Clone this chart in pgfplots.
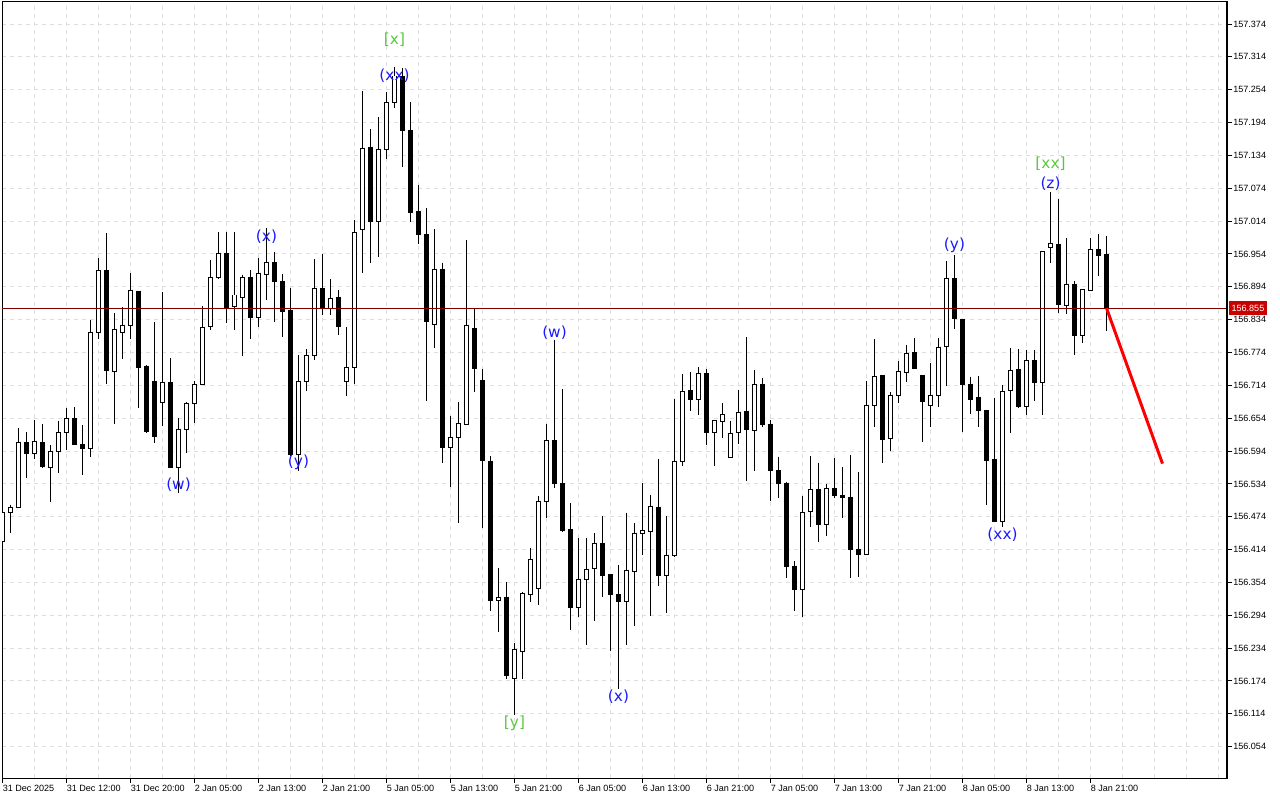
\documentclass[border=0pt]{standalone}
\usepackage{pgfplots}
\pgfplotsset{compat=1.18}
\usepackage{pgfplotstable}
\usepackage{fontspec}
\setmainfont{Liberation Sans}
\newfontfamily\wavefont{DejaVu Sans}

\definecolor{gridgray}{RGB}{222,222,222}
\definecolor{bidred}{RGB}{125,0,0}
\definecolor{boxred}{RGB}{200,0,0}
\definecolor{waveblue}{RGB}{25,25,255}
\definecolor{wavegreen}{RGB}{90,200,60}

\tikzset{wave/.style={font=\wavefont\fontsize{11.5}{13}\selectfont, inner sep=0pt}}

% hourly bars, i = bar number
\pgfplotstableread{
i o h l c
0 156.428 156.483 156.427 156.482
1 156.482 156.496 156.445 156.491
2 156.491 156.636 156.490 156.610
3 156.610 156.629 156.545 156.590
4 156.590 156.651 156.580 156.612
5 156.610 156.643 156.563 156.565
6 156.564 156.605 156.501 156.594
7 156.594 156.649 156.554 156.628
8 156.628 156.672 156.595 156.653
9 156.654 156.674 156.605 156.606
10 156.606 156.641 156.551 156.598
11 156.598 156.833 156.584 156.810
12 156.810 156.946 156.798 156.924
13 156.924 156.992 156.716 156.741
14 156.739 156.846 156.643 156.816
15 156.810 156.857 156.762 156.824
16 156.824 156.919 156.799 156.888
17 156.886 156.887 156.673 156.747
18 156.749 156.751 156.627 156.629
19 156.721 156.830 156.608 156.620
20 156.683 156.885 156.639 156.720
21 156.720 156.764 156.563 156.564
22 156.564 156.654 156.517 156.634
23 156.634 156.684 156.590 156.680
24 156.680 156.722 156.646 156.716
25 156.716 156.859 156.715 156.820
26 156.821 156.943 156.816 156.911
27 156.911 156.995 156.908 156.954
28 156.954 156.994 156.828 156.857
29 156.858 156.994 156.815 156.879
30 156.875 156.916 156.768 156.911
31 156.911 156.925 156.799 156.838
32 156.838 156.947 156.821 156.919
33 156.917 157.001 156.869 156.939
34 156.939 156.957 156.830 156.903
35 156.904 156.917 156.803 156.849
36 156.850 156.892 156.585 156.588
37 156.588 156.769 156.558 156.721
38 156.721 156.780 156.704 156.769
39 156.768 156.945 156.760 156.891
40 156.891 156.954 156.842 156.854
41 156.854 156.908 156.842 156.873
42 156.875 156.888 156.806 156.821
43 156.721 156.820 156.695 156.747
44 156.747 157.016 156.716 156.994
45 156.999 157.252 156.919 157.147
46 157.149 157.182 156.938 157.013
47 157.013 157.204 156.949 157.145
48 157.145 157.249 157.127 157.231
49 157.231 157.296 157.220 157.279
50 157.279 157.294 157.113 157.179
51 157.180 157.231 157.013 157.029
52 157.031 157.080 156.973 156.990
53 156.989 157.038 156.686 156.830
54 156.825 156.999 156.782 156.926
55 156.925 156.938 156.573 156.600
56 156.601 156.658 156.529 156.619
57 156.619 156.684 156.463 156.645
58 156.643 156.979 156.642 156.824
59 156.818 156.853 156.701 156.745
60 156.722 156.744 156.454 156.576
61 156.575 156.585 156.302 156.321
62 156.321 156.380 156.264 156.326
63 156.327 156.354 156.178 156.184
64 156.179 156.243 156.112 156.232
65 156.228 156.336 156.178 156.334
66 156.332 156.416 156.319 156.396
67 156.343 156.512 156.312 156.501
68 156.501 156.643 156.472 156.613
69 156.613 156.797 156.526 156.535
70 156.535 156.707 156.447 156.449
71 156.450 156.499 156.268 156.309
72 156.309 156.435 156.291 156.360
73 156.360 156.436 156.239 156.378
74 156.380 156.444 156.284 156.426
75 156.426 156.475 156.328 156.366
76 156.368 156.369 156.229 156.332
77 156.332 156.386 156.159 156.319
78 156.319 156.481 156.240 156.376
79 156.374 156.463 156.275 156.444
80 156.444 156.536 156.404 156.448
81 156.447 156.514 156.293 156.493
82 156.491 156.580 156.348 156.366
83 156.366 156.475 156.299 156.404
84 156.404 156.689 156.401 156.575
85 156.575 156.735 156.567 156.703
86 156.704 156.738 156.668 156.689
87 156.689 156.747 156.660 156.735
88 156.735 156.743 156.605 156.628
89 156.628 156.651 156.567 156.649
90 156.648 156.681 156.618 156.661
91 156.583 156.649 156.583 156.626
92 156.628 156.706 156.607 156.665
93 156.667 156.802 156.540 156.634
94 156.631 156.742 156.558 156.716
95 156.716 156.727 156.638 156.643
96 156.643 156.651 156.503 156.558
97 156.559 156.584 156.509 156.535
98 156.535 156.537 156.363 156.383
99 156.384 156.393 156.302 156.342
100 156.342 156.511 156.291 156.482
101 156.483 156.585 156.456 156.524
102 156.524 156.573 156.428 156.460
103 156.460 156.534 156.438 156.526
104 156.526 156.581 156.508 156.512
105 156.512 156.565 156.471 156.510
106 156.510 156.587 156.362 156.415
107 156.415 156.555 156.364 156.405
108 156.405 156.722 156.404 156.678
109 156.678 156.799 156.637 156.731
110 156.732 156.733 156.573 156.616
111 156.616 156.701 156.594 156.696
112 156.696 156.758 156.681 156.739
113 156.738 156.788 156.721 156.773
114 156.774 156.800 156.744 156.745
115 156.732 156.733 156.611 156.684
116 156.678 156.754 156.637 156.696
117 156.696 156.800 156.674 156.784
118 156.785 156.941 156.713 156.910
119 156.910 156.952 156.817 156.837
120 156.835 156.836 156.628 156.716
121 156.716 156.730 156.662 156.689
122 156.692 156.731 156.638 156.668
123 156.668 156.669 156.496 156.576
124 156.578 156.691 156.464 156.465
125 156.465 156.715 156.456 156.702
126 156.705 156.783 156.627 156.741
127 156.743 156.780 156.673 156.676
128 156.676 156.779 156.660 156.759
129 156.759 156.779 156.686 156.719
130 156.719 156.959 156.659 156.958
131 156.966 157.067 156.938 156.973
132 156.972 157.054 156.847 156.861
133 156.860 156.983 156.845 156.899
134 156.899 156.905 156.770 156.805
135 156.805 156.890 156.791 156.889
136 156.888 156.983 156.886 156.962
137 156.962 156.990 156.914 156.951
138 156.953 156.987 156.813 156.855
}\candles

\begin{document}
\begin{tikzpicture}
\begin{axis}[
  at={(1.5pt,16.5pt)}, anchor=south west,
  scale only axis, width=918.75pt, height=582pt,
  xmin=-0.0625, xmax=153.0625,
  ymin=155.9968, ymax=157.4142,
  axis line style={line width=0.75pt, black},
  tick align=outside,
  xtick pos=left, ytick pos=right, yticklabel pos=right,
  major tick length=3.75pt, minor tick length=0pt,
  tick style={black, line width=0.75pt},
  xtick={0,8,...,136},
  xticklabels={31 Dec 2025, 31 Dec 12:00, 31 Dec 20:00, 2 Jan 05:00, 2 Jan 13:00,
    2 Jan 21:00, 5 Jan 05:00, 5 Jan 13:00, 5 Jan 21:00, 6 Jan 05:00, 6 Jan 13:00,
    6 Jan 21:00, 7 Jan 05:00, 7 Jan 13:00, 7 Jan 21:00, 8 Jan 05:00, 8 Jan 13:00,
    8 Jan 21:00},
  minor xtick={4,12,20,28,36,44,52,60,68,76,84,92,100,108,116,124,132,140,144,148,152},
  ytick={156.054,156.114,156.174,156.234,156.294,156.354,156.414,156.474,156.534,
    156.594,156.654,156.714,156.774,156.834,156.894,156.954,157.014,157.074,
    157.134,157.194,157.254,157.314,157.374},
  yticklabels={156.054,156.114,156.174,156.234,156.294,156.354,156.414,156.474,156.534,
    156.594,156.654,156.714,156.774,156.834,156.894,156.954,157.014,157.074,
    157.134,157.194,157.254,157.314,157.374},
  xmajorgrids, xminorgrids, ymajorgrids,
  major grid style={gridgray, dash pattern=on 3pt off 3pt, line width=0.75pt},
  minor grid style={gridgray, dash pattern=on 3pt off 3pt, line width=0.75pt},
  tick label style={font=\fontsize{6.8}{7}\selectfont, inner sep=0pt},
  xticklabel style={anchor=north west, yshift=-1.5pt},
  yticklabel style={anchor=west, xshift=0.75pt},
]

% wicks
\addplot[draw=none, mark=none, forget plot,
  error bars/.cd, y dir=minus, y explicit, error mark=none,
  error bar style={draw=black, line width=0.75pt}]
  table[x=i, y=h, y error minus expr={\thisrow{h}-\thisrow{l}}] {\candles};

% bodies
\addplot[draw=none, mark=none, forget plot,
  error bars/.cd, y dir=minus, y explicit, error mark=none,
  error bar style={draw=black, line width=3.75pt}]
  table[x=i, y expr={max(\thisrow{o},\thisrow{c})+0.0009},
    y error minus expr={abs(\thisrow{c}-\thisrow{o})+0.0018}] {\candles};

% hollow inside of rising bars
\addplot[draw=none, mark=none, forget plot,
  error bars/.cd, y dir=minus, y explicit, error mark=none,
  error bar style={draw=white, line width=2.25pt}]
  table[x=i, y expr={max(\thisrow{o},\thisrow{c})-0.0009},
    y error minus expr={max(\thisrow{c}-\thisrow{o}-0.0018,0)}] {\candles};

% bid line
\addplot[bidred, line width=0.7pt, forget plot] coordinates {(-1,156.855) (154,156.855)};

% projection
\addplot[red, line width=2.25pt, forget plot] coordinates {(138,156.855) (145,156.571)};

\coordinate (bid) at (axis cs:153.0625,156.855);

\node[wave, text=wavegreen] at (axis cs:49,157.345) {[x]};
\node[wave, text=waveblue] at (axis cs:49,157.279) {(xx)};
\node[wave, text=waveblue] at (axis cs:33,156.985) {(x)};
\node[wave, text=waveblue] at (axis cs:22,156.532) {(w)};
\node[wave, text=waveblue] at (axis cs:37,156.574) {(y)};
\node[wave, text=waveblue] at (axis cs:69,156.811) {(w)};
\node[wave, text=wavegreen] at (axis cs:64,156.097) {[y]};
\node[wave, text=waveblue] at (axis cs:77,156.145) {(x)};
\node[wave, text=waveblue] at (axis cs:119,156.969) {(y)};
\node[wave, text=waveblue] at (axis cs:125,156.441) {(xx)};
\node[wave, text=wavegreen] at (axis cs:131,157.118) {[xx]};
\node[wave, text=waveblue] at (axis cs:131,157.082) {(z)};

\draw[line width=1.5pt] (rel axis cs:1,0) -- (rel axis cs:1,1);
\end{axis}
\node[fill=boxred, text=white, anchor=west, inner xsep=2.2pt, inner ysep=0pt,
  minimum height=10.5pt, font=\fontsize{6.8}{7}\selectfont] at ([xshift=1pt]bid) {156.855};
\pgfresetboundingbox
\path[use as bounding box] (0,0) rectangle (960pt,600pt);
\end{tikzpicture}
\end{document}
